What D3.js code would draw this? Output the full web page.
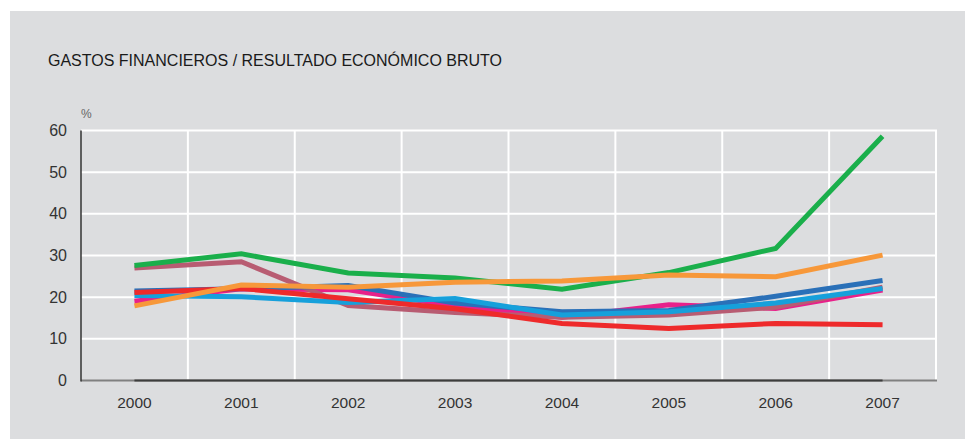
<!DOCTYPE html>
<html>
<head>
<meta charset="utf-8">
<title>Gastos financieros / Resultado económico bruto</title>
<script src="https://d3js.org/d3.v7.min.js"></script>
<style>
body { margin: 0; background: #fff; }
svg { font-family: "Liberation Sans", Arial, sans-serif; display: block; }
.line { fill: none; stroke-width: 5; stroke-linejoin: miter; stroke-linecap: butt; }
.grid line { stroke: #fff; stroke-width: 2; }
.tick-label { font-size: 16px; fill: #333; }
</style>
</head>
<body>
<div id="chart"></div>
<script>

var years = ["2000", "2001", "2002", "2003", "2004", "2005", "2006", "2007"];
var yTicks = [0, 10, 20, 30, 40, 50, 60];

var magenta   = [19.0, 22.0, 21.8, 17.9, 15.2, 18.2, 17.3, 21.7];
var mauve     = [27.0, 28.5, 18.0, 16.3, 15.2, 15.7, 17.6, 22.4];
var darkBlue  = [21.5, 22.0, 22.8, 18.6, 16.5, 16.8, 20.2, 24.0];
var lightBlue = [20.4, 20.1, 18.7, 19.7, 15.7, 16.5, 18.6, 22.1];
var red       = [21.1, 22.1, 19.6, 17.2, 13.7, 12.5, 13.7, 13.4];
var green     = [27.6, 30.4, 25.8, 24.6, 21.9, 25.9, 31.7, 58.6];
var orange    = [17.9, 22.9, 22.4, 23.6, 23.9, 25.3, 24.9, 30.1];

// drawing order, bottom to top
var series = [
  {name: "magenta", color: "#e8218a", values: magenta},
  {name: "mauve", color: "#b85c72", values: mauve},
  {name: "darkBlue", color: "#2a70b8", values: darkBlue},
  {name: "lightBlue", color: "#16a0db", values: lightBlue},
  {name: "red", color: "#ee2a2b", values: red},
  {name: "green", color: "#1aaf4b", values: green},
  {name: "orange", color: "#f7983a", values: orange}
];

var width = 965, height = 439;
var plot = {left: 81, right: 936, top: 130.5, bottom: 380.5};

var svg = d3.select("#chart").append("svg")
  .attr("width", width)
  .attr("height", height);

// grey panel
svg.append("rect")
  .attr("x", 10).attr("y", 11)
  .attr("width", width - 10).attr("height", height - 11)
  .attr("fill", "#dcdddf");

svg.append("text")
  .attr("x", 48).attr("y", 65.5)
  .style("font-size", "16px")
  .attr("fill", "#1a1a1a")
  .text("GASTOS FINANCIEROS / RESULTADO ECONÓMICO BRUTO");

/* Scales */
var x = d3.scaleBand()
  .domain(years)
  .range([plot.left, plot.right])
  .padding(0);

var y = d3.scaleLinear()
  .domain([0, 60])
  .range([plot.bottom, plot.top]);

/* Grid */
var grid = svg.append("g").attr("class", "grid");

grid.selectAll(".h")
  .data(yTicks.filter(d => d > 0)).enter()
  .append("line")
  .attr("x1", plot.left).attr("x2", plot.right + 1)
  .attr("y1", d => y(d)).attr("y2", d => y(d));

var bounds = years.slice(1).map(d => x(d)).concat([plot.right]);
grid.selectAll(".v")
  .data(bounds).enter()
  .append("line")
  .attr("x1", d => d).attr("x2", d => d)
  .attr("y1", plot.top).attr("y2", plot.bottom);

/* Axes lines */
svg.append("line")
  .attr("x1", plot.left).attr("x2", plot.right + 1)
  .attr("y1", plot.bottom).attr("y2", plot.bottom)
  .attr("stroke", "#808080").attr("stroke-width", 2);

svg.append("line")
  .attr("x1", x(years[0]) + x.bandwidth() / 2)
  .attr("x2", x(years[years.length - 1]) + x.bandwidth() / 2)
  .attr("y1", plot.bottom).attr("y2", plot.bottom)
  .attr("stroke", "#3d3d3d").attr("stroke-width", 2);

svg.append("line")
  .attr("x1", plot.left).attr("x2", plot.left)
  .attr("y1", plot.top).attr("y2", plot.bottom + 1)
  .attr("stroke", "#333").attr("stroke-width", 1.5);

/* Tick labels */
svg.selectAll(".ylab")
  .data(yTicks).enter()
  .append("text")
  .attr("class", "tick-label")
  .attr("x", 67)
  .attr("y", d => y(d) + 5.5)
  .attr("text-anchor", "end")
  .text(d => d);

svg.selectAll(".xlab")
  .data(years).enter()
  .append("text")
  .attr("class", "tick-label")
  .attr("x", d => x(d) + x.bandwidth() / 2)
  .attr("y", 407.5)
  .attr("text-anchor", "middle")
  .style("font-size", "15.5px")
  .text(d => d);

svg.append("text")
  .attr("x", 81).attr("y", 118)
  .style("font-size", "12px")
  .attr("fill", "#666")
  .text("%");

/* Lines */
var line = d3.line()
  .x((d, i) => x(years[i]) + x.bandwidth() / 2)
  .y(d => y(d));

svg.append("g").selectAll("path")
  .data(series).enter()
  .append("path")
  .attr("class", "line")
  .attr("stroke", d => d.color)
  .attr("d", d => line(d.values));

</script>
</body>
</html>
